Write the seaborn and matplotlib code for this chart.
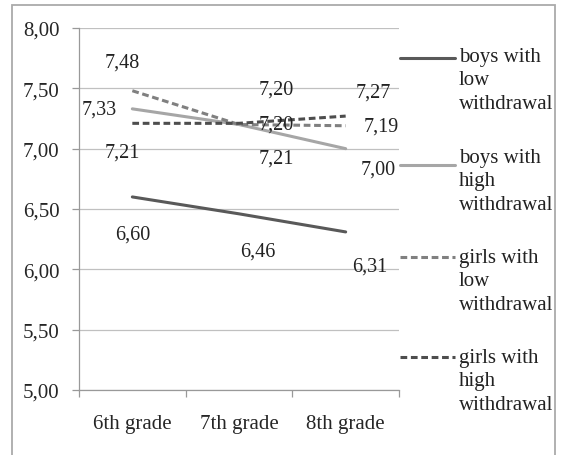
import seaborn as sns
import matplotlib.pyplot as plt
import matplotlib.lines as mlines
import matplotlib.patches as mpatches
import pandas as pd

grades = ["6th grade", "7th grade", "8th grade"]
groups = ["boys with low withdrawal", "boys with high withdrawal",
          "girls with low withdrawal", "girls with high withdrawal"]
legend_labels = ["boys with\nlow\nwithdrawal", "boys with\nhigh\nwithdrawal",
                 "girls with\nlow\nwithdrawal", "girls with\nhigh\nwithdrawal"]
boys_low = [6.60, 6.46, 6.31]
boys_high = [7.33, 7.20, 7.00]
girls_low = [7.48, 7.20, 7.19]
girls_high = [7.21, 7.21, 7.27]
y_ticks = [5.00, 5.50, 6.00, 6.50, 7.00, 7.50, 8.00]

sns.set_style("white")
plt.rcParams["font.family"] = ["Liberation Serif", "DejaVu Serif"]

rows = []
for g, vals in zip(groups, [boys_low, boys_high, girls_low, girls_high]):
    for gr, v in zip(grades, vals):
        rows.append({"grade": gr, "score": v, "group": g})
df = pd.DataFrame(rows)

colors = {groups[0]: "#595959", groups[1]: "#a6a6a6",
          groups[2]: "#808080", groups[3]: "#4d4d4d"}
dashes = {groups[0]: "", groups[1]: "", groups[2]: (2.2, 1.2), groups[3]: (2.2, 1.2)}

fig = plt.figure(figsize=(5.61, 4.56), dpi=100)
ax = fig.add_axes([79 / 561, 1 - 391 / 456, 320 / 561, 362 / 456])

sns.lineplot(data=df, x="grade", y="score", hue="group", style="group",
             palette=colors, dashes=dashes, linewidth=2.2, legend=False, ax=ax,
             sort=False)

ax.set_xlim(-0.5, 2.5)
ax.set_ylim(5.0, 8.0)
ax.set_yticks(y_ticks)
ax.set_yticklabels([f"{t:.2f}".replace(".", ",") for t in y_ticks], fontsize=15)
ax.yaxis.grid(True, color="#c0c0c0", linewidth=0.9)
ax.set_axisbelow(True)
ax.set_xlabel("")
ax.set_ylabel("")

ax.set_xticks([-0.5, 0.5, 1.5, 2.5])
ax.set_xticklabels([])
ax.set_xticks([0, 1, 2], minor=True)
ax.set_xticklabels(grades, minor=True, fontsize=15)
ax.tick_params(axis="x", which="major", length=5, width=0.9, color="#999999", direction="out")
ax.tick_params(axis="x", which="minor", length=0, pad=17)
ax.tick_params(axis="y", length=5, width=0.9, color="#999999", direction="out", pad=9, left=True)
ax.tick_params(axis="x", bottom=True, which="major")

for s in ["top", "right"]:
    ax.spines[s].set_visible(False)
for s in ["left", "bottom"]:
    ax.spines[s].set_color("#999999")
    ax.spines[s].set_linewidth(0.9)

# data labels, offsets in pixels
offsets = {
    0: [(0, -37), (19, -37), (24, -34)],
    1: [(-33, 0), (37, 0), (33, -20)],
    2: [(-10, 29), (37, 35), (36, 0)],
    3: [(-10, -29), (37, -35), (28, 24)],
}
for k, vals in enumerate([boys_low, boys_high, girls_low, girls_high]):
    for i, v in enumerate(vals):
        ax.annotate(f"{v:.2f}".replace(".", ","), xy=(i, v), xytext=offsets[k][i],
                    textcoords="offset pixels", ha="center", va="center",
                    fontsize=14.5, color="#222222")

# legend drawn by hand so handle sits on the first text line
handle_y = [59, 166, 258, 358]
text_y = [57, 158, 258, 358]
for k, g in enumerate(groups):
    yy = 1 - handle_y[k] / 456
    ln = mlines.Line2D([400 / 561, 455 / 561], [yy, yy], transform=fig.transFigure,
                       color=colors[g], linewidth=2.2)
    if dashes[g]:
        ln.set_dashes(dashes[g])
    fig.add_artist(ln)
    fig.text(459 / 561, 1 - (text_y[k] - 9) / 456, legend_labels[k], ha="left", va="top",
             fontsize=15, color="#222222", linespacing=1.32)

# outer frame
fig.add_artist(mpatches.Rectangle((12 / 561, -0.05), 543 / 561, 1.05 - 6 / 456,
                                  transform=fig.transFigure, fill=False,
                                  edgecolor="#aaaaaa", linewidth=1.3))

fig.savefig("out.png", dpi=100)
